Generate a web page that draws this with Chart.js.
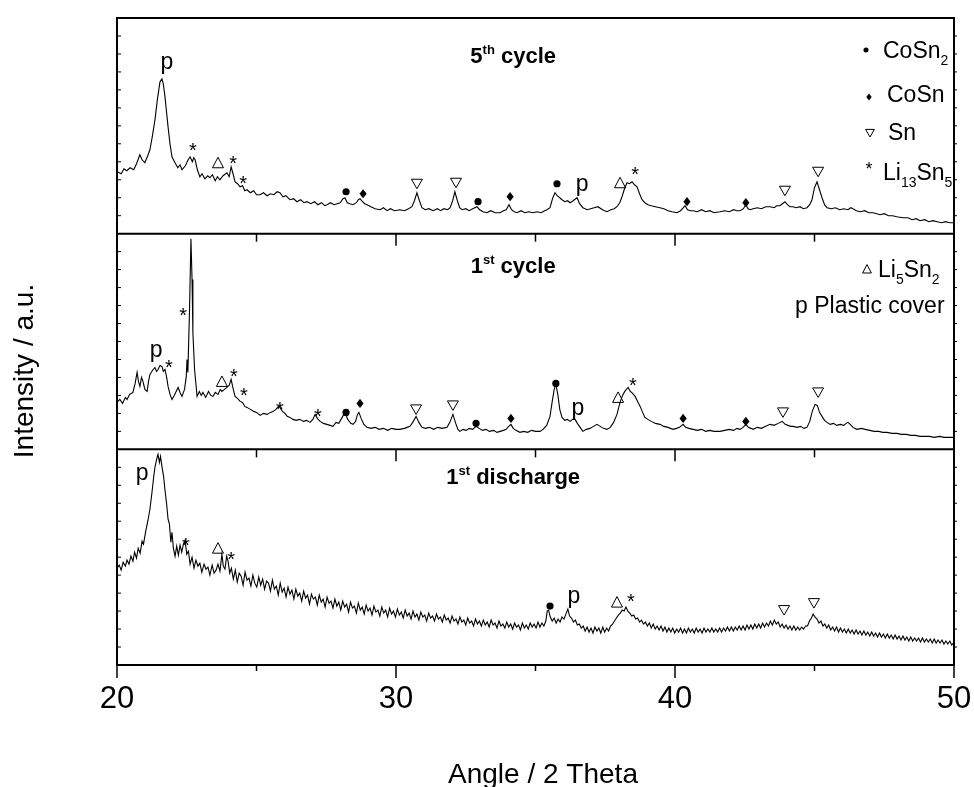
<!DOCTYPE html>
<html>
<head>
<meta charset="utf-8">
<script src="https://cdn.jsdelivr.net/npm/chart.js@4.4.1/dist/chart.umd.min.js"></script>
<style>
  html, body { margin: 0; padding: 0; background: #fff; }
  #wrap { width: 974px; height: 787px; position: relative; }
</style>
</head>
<body>
<div id="wrap"><canvas id="xrd"></canvas></div>
<script>
// [2-theta (deg), intensity (a.u.)]
var discharge = [[20.00,97],[20.08,100],[20.15,95],[20.22,103],[20.30,99],[20.36,105],[20.43,101],[20.50,109],[20.57,104],[20.63,113],[20.70,107],[20.76,117],[20.83,112],[20.90,124],[20.95,121],[21.03,134],[21.11,145],[21.18,156],[21.25,172],[21.31,187],[21.36,198],[21.42,206],[21.47,211],[21.52,203],[21.56,209],[21.61,199],[21.67,189],[21.72,175],[21.78,161],[21.83,146],[21.88,141],[21.93,123],[21.97,133],[22.02,117],[22.08,109],[22.14,119],[22.20,110],[22.26,120],[22.32,113],[22.38,121],[22.44,125],[22.50,111],[22.56,114],[22.62,101],[22.69,108],[22.76,97],[22.83,105],[22.90,99],[22.97,102],[23.04,93],[23.12,101],[23.19,96],[23.26,98],[23.33,90],[23.41,100],[23.48,92],[23.55,95],[23.62,101],[23.69,94],[23.76,111],[23.81,99],[23.87,96],[23.93,109],[23.98,104],[24.04,92],[24.10,97],[24.17,86],[24.24,95],[24.31,83],[24.38,92],[24.45,89],[24.52,80],[24.59,93],[24.66,85],[24.73,87],[24.80,79],[24.87,90],[24.94,82],[25.01,78],[25.08,88],[25.15,80],[25.22,86],[25.29,76],[25.36,84],[25.43,82],[25.50,74],[25.57,85],[25.64,76],[25.71,79],[25.78,70],[25.85,82],[25.92,73],[25.99,77],[26.06,68],[26.13,78],[26.20,71],[26.27,75],[26.34,66],[26.41,76],[26.48,69],[26.55,72],[26.62,64],[26.69,74],[26.76,67],[26.83,70],[26.90,61],[26.97,71],[27.04,66],[27.11,68],[27.18,60],[27.25,70],[27.32,63],[27.39,66],[27.46,58],[27.53,68],[27.60,62],[27.67,64],[27.74,57],[27.81,66],[27.88,59],[27.95,63],[28.02,55],[28.09,64],[28.16,58],[28.23,61],[28.30,53],[28.37,63],[28.44,57],[28.51,59],[28.58,52],[28.65,62],[28.72,55],[28.79,58],[28.86,51],[28.93,60],[29.00,54],[29.07,57],[29.14,50],[29.21,59],[29.28,53],[29.35,55],[29.42,49],[29.49,58],[29.56,52],[29.63,55],[29.70,48],[29.77,57],[29.84,51],[29.91,54],[29.98,48],[30.05,56],[30.12,50],[30.19,53],[30.26,47],[30.33,55],[30.40,49],[30.47,52],[30.54,46],[30.61,54],[30.68,48],[30.75,51],[30.82,45],[30.89,53],[30.96,48],[31.03,50],[31.10,44],[31.17,52],[31.24,47],[31.31,49],[31.38,44],[31.45,51],[31.52,46],[31.59,48],[31.66,43],[31.73,50],[31.80,45],[31.87,47],[31.94,42],[32.01,49],[32.08,44],[32.15,46],[32.22,41],[32.29,48],[32.36,43],[32.43,45],[32.50,40],[32.57,47],[32.64,42],[32.71,44],[32.78,39],[32.85,46],[32.92,41],[32.99,44],[33.06,39],[33.13,45],[33.20,40],[33.27,43],[33.34,38],[33.41,45],[33.48,40],[33.55,42],[33.62,37],[33.69,44],[33.76,39],[33.83,41],[33.90,37],[33.97,43],[34.04,38],[34.11,41],[34.18,36],[34.25,42],[34.32,38],[34.39,40],[34.46,35],[34.53,42],[34.60,37],[34.67,40],[34.74,36],[34.81,42],[34.88,38],[34.95,41],[35.02,37],[35.09,43],[35.16,38],[35.23,42],[35.30,39],[35.37,44],[35.42,54],[35.47,55],[35.53,48],[35.60,44],[35.67,47],[35.74,42],[35.81,46],[35.88,43],[35.95,48],[36.02,46],[36.09,51],[36.16,56],[36.22,49],[36.29,47],[36.36,43],[36.43,45],[36.50,40],[36.57,41],[36.64,37],[36.71,39],[36.78,34],[36.85,38],[36.92,33],[36.99,37],[37.06,32],[37.13,38],[37.20,34],[37.27,37],[37.34,32],[37.41,38],[37.48,33],[37.55,37],[37.62,34],[37.69,39],[37.76,41],[37.83,44],[37.90,47],[37.97,50],[38.04,52],[38.11,55],[38.18,54],[38.24,58],[38.31,54],[38.38,52],[38.45,49],[38.52,50],[38.59,46],[38.66,47],[38.73,43],[38.80,45],[38.87,41],[38.94,43],[39.01,39],[39.08,42],[39.15,37],[39.22,41],[39.29,36],[39.36,39],[39.43,35],[39.50,39],[39.57,34],[39.64,38],[39.71,33],[39.78,37],[39.85,33],[39.92,37],[39.99,32],[40.06,36],[40.13,33],[40.20,37],[40.27,32],[40.34,36],[40.41,32],[40.48,37],[40.55,33],[40.62,36],[40.69,32],[40.76,37],[40.83,33],[40.90,36],[40.97,32],[41.04,37],[41.11,33],[41.18,36],[41.25,33],[41.32,37],[41.39,33],[41.46,36],[41.53,33],[41.60,37],[41.67,33],[41.74,37],[41.81,34],[41.88,38],[41.95,34],[42.02,38],[42.09,34],[42.16,38],[42.23,35],[42.30,39],[42.37,35],[42.44,39],[42.51,35],[42.58,40],[42.65,36],[42.72,40],[42.79,36],[42.86,41],[42.93,37],[43.00,41],[43.07,37],[43.14,42],[43.21,38],[43.28,42],[43.35,39],[43.42,44],[43.49,40],[43.56,45],[43.63,41],[43.70,43],[43.77,38],[43.84,41],[43.91,37],[43.98,40],[44.05,36],[44.12,39],[44.19,35],[44.26,39],[44.33,35],[44.40,38],[44.47,35],[44.54,38],[44.61,36],[44.68,39],[44.75,39],[44.82,44],[44.89,47],[44.95,51],[45.02,48],[45.09,46],[45.16,42],[45.23,44],[45.30,39],[45.37,41],[45.44,37],[45.51,40],[45.58,35],[45.65,38],[45.72,34],[45.79,38],[45.86,33],[45.93,37],[46.00,33],[46.07,36],[46.14,32],[46.21,36],[46.28,32],[46.35,35],[46.42,31],[46.49,35],[46.56,31],[46.63,34],[46.70,30],[46.77,34],[46.84,30],[46.91,33],[46.98,29],[47.05,33],[47.12,29],[47.19,32],[47.26,28],[47.33,32],[47.40,28],[47.47,31],[47.54,27],[47.61,31],[47.68,27],[47.75,30],[47.82,26],[47.89,30],[47.96,26],[48.03,29],[48.10,25],[48.17,29],[48.24,25],[48.31,28],[48.38,24],[48.45,28],[48.52,24],[48.59,27],[48.66,24],[48.73,27],[48.80,23],[48.87,27],[48.94,23],[49.01,26],[49.08,23],[49.15,26],[49.22,22],[49.29,26],[49.36,22],[49.43,25],[49.50,22],[49.57,25],[49.64,21],[49.71,24],[49.78,21],[49.85,24],[49.92,20],[50.00,23]];

var cycle1 = [[20.00,47],[20.10,50],[20.20,46],[20.30,52],[20.36,50],[20.45,55],[20.57,57],[20.65,66],[20.72,77],[20.77,68],[20.82,63],[20.88,72],[20.93,68],[21.00,60],[21.08,58],[21.13,68],[21.18,75],[21.27,79],[21.36,82],[21.42,78],[21.47,80],[21.54,84],[21.61,83],[21.66,78],[21.72,80],[21.78,72],[21.83,63],[21.90,55],[21.97,50],[22.05,54],[22.12,58],[22.19,62],[22.26,57],[22.33,53],[22.42,60],[22.48,72],[22.51,90],[22.54,77],[22.60,140],[22.65,211],[22.69,170],[22.72,117],[22.78,80],[22.87,53],[22.95,58],[23.02,54],[23.08,57],[23.18,52],[23.28,58],[23.36,54],[23.44,53],[23.52,57],[23.62,55],[23.70,60],[23.76,58],[23.85,60],[23.94,62],[24.02,64],[24.09,70],[24.16,61],[24.23,53],[24.32,51],[24.41,48],[24.50,47],[24.58,43],[24.66,42],[24.78,40],[24.90,38],[25.00,37],[25.13,34],[25.25,36],[25.38,35],[25.50,37],[25.59,38],[25.70,40],[25.78,43],[25.84,42],[25.93,38],[26.02,36],[26.10,33],[26.20,32],[26.31,30],[26.42,29],[26.55,30],[26.68,28],[26.80,29],[26.92,27],[27.02,30],[27.10,35],[27.18,31],[27.28,28],[27.40,26],[27.52,25],[27.64,24],[27.74,23],[27.85,27],[27.95,26],[28.05,31],[28.17,37],[28.27,30],[28.38,26],[28.46,25],[28.55,28],[28.62,35],[28.67,37],[28.75,31],[28.85,25],[28.96,22],[29.10,21],[29.25,22],[29.40,20],[29.55,21],[29.70,19],[29.85,21],[30.00,20],[30.14,20],[30.30,21],[30.40,22],[30.50,23],[30.60,27],[30.72,33],[30.82,27],[30.93,22],[31.05,21],[31.20,22],[31.35,20],[31.50,22],[31.65,21],[31.83,22],[31.93,27],[32.04,35],[32.14,26],[32.22,20],[32.29,18],[32.40,20],[32.52,19],[32.62,21],[32.75,20],[32.87,23],[32.98,21],[33.10,19],[33.22,20],[33.35,18],[33.50,19],[33.62,17],[33.73,18],[33.85,19],[33.95,20],[34.04,23],[34.12,25],[34.20,21],[34.30,19],[34.44,17],[34.58,18],[34.72,17],[34.86,19],[35.00,18],[35.16,18],[35.27,20],[35.40,24],[35.52,33],[35.60,48],[35.67,60],[35.73,65],[35.80,55],[35.87,40],[35.95,32],[36.05,29],[36.14,30],[36.24,28],[36.33,30],[36.42,30],[36.50,26],[36.60,22],[36.70,18],[36.82,20],[36.95,21],[37.08,23],[37.20,25],[37.32,23],[37.44,21],[37.56,20],[37.68,22],[37.80,27],[37.92,35],[38.03,47],[38.12,54],[38.20,58],[38.32,62],[38.40,58],[38.48,56],[38.57,53],[38.66,48],[38.75,43],[38.84,37],[38.92,32],[39.03,30],[39.15,28],[39.30,26],[39.46,25],[39.60,23],[39.75,22],[39.93,20],[40.05,21],[40.16,22],[40.29,25],[40.38,22],[40.50,21],[40.65,20],[40.80,19],[40.95,20],[41.10,18],[41.25,19],[41.40,18],[41.61,18],[41.78,19],[41.95,20],[42.10,19],[42.22,21],[42.33,20],[42.44,22],[42.54,25],[42.63,22],[42.72,21],[42.80,20],[42.95,22],[43.10,21],[43.25,23],[43.41,25],[43.55,24],[43.70,26],[43.84,28],[43.95,25],[44.05,24],[44.15,23],[44.23,23],[44.38,22],[44.50,23],[44.62,21],[44.73,22],[44.83,28],[44.92,38],[45.02,45],[45.10,44],[45.18,37],[45.27,33],[45.36,29],[45.45,27],[45.56,25],[45.68,26],[45.80,24],[45.92,25],[46.05,24],[46.13,26],[46.20,27],[46.28,25],[46.38,22],[46.52,20],[46.68,21],[46.82,20],[46.98,19],[47.14,18],[47.30,18],[47.45,17],[47.60,17],[47.78,16],[47.95,16],[48.12,15],[48.30,15],[48.45,14],[48.62,14],[48.78,13],[48.95,13],[49.12,13],[49.30,12],[49.48,13],[49.65,12],[49.82,12],[50.00,12]];

var cycle5 = [[20.00,62],[20.15,60],[20.25,65],[20.35,63],[20.47,66],[20.60,64],[20.70,70],[20.82,79],[20.90,74],[21.00,71],[21.10,78],[21.18,84],[21.27,98],[21.36,114],[21.45,135],[21.54,152],[21.61,155],[21.66,150],[21.72,137],[21.83,107],[21.90,90],[21.97,77],[22.08,71],[22.18,66],[22.26,69],[22.33,64],[22.45,68],[22.55,74],[22.62,77],[22.70,72],[22.75,76],[22.80,74],[22.88,64],[22.97,57],[23.05,60],[23.15,55],[23.25,58],[23.33,56],[23.42,59],[23.52,53],[23.60,57],[23.69,54],[23.80,58],[23.94,61],[24.02,57],[24.09,67],[24.16,60],[24.23,52],[24.32,50],[24.41,47],[24.50,48],[24.58,43],[24.66,44],[24.78,41],[24.90,43],[25.00,39],[25.13,39],[25.25,41],[25.38,38],[25.50,40],[25.62,39],[25.74,42],[25.84,41],[25.95,37],[26.05,38],[26.20,34],[26.33,35],[26.45,32],[26.58,34],[26.70,31],[26.81,32],[26.95,30],[27.08,32],[27.20,29],[27.33,31],[27.45,28],[27.53,29],[27.65,31],[27.78,29],[27.89,30],[28.00,31],[28.10,35],[28.17,36],[28.25,31],[28.35,30],[28.46,29],[28.58,31],[28.65,34],[28.71,35],[28.80,32],[28.88,30],[28.96,29],[29.10,27],[29.25,25],[29.43,24],[29.55,26],[29.68,23],[29.80,25],[29.95,23],[30.14,24],[30.30,23],[30.45,25],[30.57,27],[30.66,33],[30.75,41],[30.84,33],[30.93,26],[31.05,24],[31.18,25],[31.33,23],[31.48,25],[31.60,23],[31.72,25],[31.85,24],[31.94,26],[32.03,33],[32.11,42],[32.20,33],[32.28,26],[32.37,24],[32.50,25],[32.62,23],[32.75,25],[32.90,27],[33.00,24],[33.12,22],[33.26,21],[33.40,23],[33.55,21],[33.73,21],[33.85,23],[33.95,24],[34.05,29],[34.14,24],[34.24,22],[34.34,21],[34.48,23],[34.62,21],[34.76,22],[34.91,21],[35.05,22],[35.20,21],[35.33,23],[35.41,24],[35.52,26],[35.62,36],[35.70,41],[35.78,38],[35.87,36],[35.95,34],[36.05,32],[36.15,33],[36.24,31],[36.35,33],[36.49,36],[36.58,30],[36.70,26],[36.85,24],[36.98,25],[37.10,26],[37.24,27],[37.40,24],[37.56,22],[37.70,24],[37.82,25],[37.92,27],[38.02,31],[38.10,37],[38.19,45],[38.28,51],[38.37,50],[38.46,52],[38.55,49],[38.64,47],[38.73,40],[38.82,34],[38.92,31],[39.03,29],[39.15,28],[39.30,27],[39.46,26],[39.60,25],[39.75,23],[39.90,22],[40.07,21],[40.20,23],[40.30,26],[40.36,28],[40.45,24],[40.55,23],[40.65,23],[40.80,22],[40.95,24],[41.10,22],[41.25,23],[41.40,21],[41.61,22],[41.78,23],[41.95,22],[42.10,24],[42.22,23],[42.33,23],[42.45,25],[42.54,29],[42.62,25],[42.70,24],[42.80,25],[42.95,26],[43.10,25],[43.25,27],[43.41,27],[43.55,26],[43.65,28],[43.76,28],[43.85,30],[43.94,32],[44.03,29],[44.12,27],[44.23,27],[44.35,26],[44.48,27],[44.60,25],[44.73,26],[44.83,29],[44.91,34],[45.00,46],[45.09,52],[45.18,44],[45.27,36],[45.36,29],[45.45,26],[45.60,25],[45.75,26],[45.90,24],[46.05,25],[46.20,24],[46.30,26],[46.38,25],[46.50,23],[46.65,22],[46.80,23],[46.95,21],[47.10,21],[47.23,20],[47.35,19],[47.50,20],[47.65,18],[47.80,18],[47.95,17],[48.17,16],[48.35,16],[48.50,14],[48.65,15],[48.78,13],[48.95,14],[49.10,12],[49.25,13],[49.40,12],[49.55,11],[49.70,12],[49.85,11],[50.00,11]];

// peak labels: [2-theta, height, phase]
var dischargePeaks = [[20.90,189,"p"],[22.47,124,"star"],[23.62,117,"delta"],[24.09,110,"star"],[35.52,59,"dot"],[36.38,66,"p"],[37.92,63,"delta"],[38.42,68,"star"],[43.91,55,"tri"],[44.98,62,"tri"]];
var cycle1Peaks = [[21.40,96,"p"],[21.86,86,"star"],[22.37,139,"star"],[23.76,68,"delta"],[24.19,77,"star"],[24.55,58,"star"],[25.84,44,"star"],[27.20,37,"star"],[28.21,37,"dot"],[28.71,46,"dia"],[30.72,40,"tri"],[32.04,44,"tri"],[32.87,26,"dot"],[34.12,31,"dia"],[35.73,66,"dot"],[36.52,38,"p"],[37.96,52,"delta"],[38.49,68,"star"],[40.29,31,"dia"],[42.54,28,"dia"],[43.87,37,"tri"],[45.13,57,"tri"]];
var cycle5Peaks = [[21.79,169,"p"],[22.72,88,"star"],[23.62,71,"delta"],[24.16,75,"star"],[24.52,55,"star"],[28.21,42,"dot"],[28.82,40,"dia"],[30.75,50,"tri"],[32.15,51,"tri"],[32.94,32,"dot"],[34.09,37,"dia"],[35.77,50,"dot"],[36.67,47,"p"],[38.03,51,"delta"],[38.57,64,"star"],[40.43,32,"dia"],[42.54,31,"dia"],[43.94,43,"tri"],[45.13,62,"tri"]];

var xTicks = [20, 30, 40, 50];
var xMinorTicks = [25, 35, 45];
var panelTitles = [
  [["1",0],["st",1],[" discharge",0]],
  [["1",0],["st",1],[" cycle",0]],
  [["5",0],["th",1],[" cycle",0]]
];

var FONT = '"Liberation Sans", Arial, Helvetica, sans-serif';
var PANEL = 216;           // height of one panel in intensity units
var offsets = [0, PANEL, 2 * PANEL];

function toPoints(series, off) {
  return series.map(function(d) { return {x: d[0], y: d[1] + off}; });
}

function drawRich(ctx, pieces, x, y, size, weight, align) {
  // pieces: [text, shift]  shift 0 normal, 1 superscript, -1 subscript
  var small = Math.round(size * 0.6);
  var fontOf = function(p) { return weight + " " + (p[1] ? small : size) + "px " + FONT; };
  var w = 0;
  pieces.forEach(function(p) { ctx.font = fontOf(p); w += ctx.measureText(p[0]).width; });
  var cx = align == "center" ? x - w / 2 : (align == "right" ? x - w : x);
  ctx.textAlign = "left";
  ctx.textBaseline = "alphabetic";
  pieces.forEach(function(p) {
    ctx.font = fontOf(p);
    var dy = p[1] == 1 ? -size * 0.4 : (p[1] == -1 ? size * 0.32 : 0);
    ctx.fillText(p[0], cx, y + dy);
    cx += ctx.measureText(p[0]).width;
  });
}

function drawSymbol(ctx, kind, x, y, k) {
  k = k || 1;
  ctx.save();
  ctx.fillStyle = "#000";
  ctx.strokeStyle = "#000";
  ctx.lineWidth = 1;
  ctx.beginPath();
  if (kind == "dot") {
    ctx.arc(x, y, 3.6 * k, 0, Math.PI * 2);
    ctx.fill();
  } else if (kind == "dia") {
    ctx.moveTo(x, y - 4.6 * k); ctx.lineTo(x + 3.6 * k, y);
    ctx.lineTo(x, y + 4.6 * k); ctx.lineTo(x - 3.6 * k, y);
    ctx.closePath(); ctx.fill();
  } else if (kind == "tri") {
    ctx.moveTo(x - 5.5 * k, y - 4.5 * k); ctx.lineTo(x + 5.5 * k, y - 4.5 * k);
    ctx.lineTo(x, y + 5 * k); ctx.closePath(); ctx.stroke();
  } else if (kind == "delta") {
    ctx.moveTo(x - 5.5 * k, y + 5 * k); ctx.lineTo(x + 5.5 * k, y + 5 * k);
    ctx.lineTo(x, y - 5.5 * k); ctx.closePath(); ctx.stroke();
  } else if (kind == "star") {
    ctx.font = Math.round(20 * k) + "px " + FONT;
    ctx.textAlign = "center"; ctx.textBaseline = "alphabetic";
    ctx.fillText("*", x, y + 11 * k);
  } else if (kind == "p") {
    ctx.font = "23px " + FONT;
    ctx.textAlign = "center"; ctx.textBaseline = "alphabetic";
    ctx.fillText("p", x, y + 4);
  }
  ctx.restore();
}

var framePlugin = {
  id: "frame",
  afterDatasetsDraw: function(chart) {
    var ctx = chart.ctx, a = chart.chartArea;
    var xs = chart.scales.x, ys = chart.scales.y;
    var seg = function(x1, y1, x2, y2) { ctx.beginPath(); ctx.moveTo(x1, y1); ctx.lineTo(x2, y2); ctx.stroke(); };
    ctx.save();
    ctx.strokeStyle = "#000";
    ctx.fillStyle = "#000";

    // box and panel separators
    ctx.lineWidth = 2;
    ctx.strokeRect(a.left, a.top, a.right - a.left, a.bottom - a.top);
    offsets.slice(1).forEach(function(off) {
      var y = ys.getPixelForValue(off);
      ctx.lineWidth = 2;
      seg(a.left, y, a.right, y);
      ctx.lineWidth = 1.5;
      xMinorTicks.concat(xTicks).forEach(function(t) {
        if (t == xs.min || t == xs.max) return;
        var x = xs.getPixelForValue(t);
        seg(x, y, x, y + (xTicks.indexOf(t) >= 0 ? 12 : 8));
      });
    });

    // bottom axis ticks
    ctx.lineWidth = 1.5;
    xTicks.forEach(function(t) { var x = xs.getPixelForValue(t); seg(x, a.bottom, x, a.bottom + 13); });
    xMinorTicks.forEach(function(t) { var x = xs.getPixelForValue(t); seg(x, a.bottom, x, a.bottom + 6); });

    // small intensity ticks on both sides
    ctx.lineWidth = 1;
    for (var v = 18; v < 3 * PANEL; v += 18) {
      if (v % PANEL == 0) continue;
      var y = ys.getPixelForValue(v);
      seg(a.left, y, a.left + 4, y);
      seg(a.right, y, a.right + 3, y);
    }

    // panel titles
    var titleY = [189, 185, 179];
    panelTitles.forEach(function(pieces, i) {
      var y = ys.getPixelForValue(offsets[i] + titleY[i]);
      drawRich(ctx, pieces, xs.getPixelForValue(34.2), y + 8, 22, "bold", "center");
    });

    // peak labels
    [dischargePeaks, cycle1Peaks, cycle5Peaks].forEach(function(list, i) {
      list.forEach(function(pk) {
        drawSymbol(ctx, pk[2], xs.getPixelForValue(pk[0]), ys.getPixelForValue(pk[1] + offsets[i]));
      });
    });

    // phase key
    ctx.fillStyle = "#000";
    drawSymbol(ctx, "dot", 866, 50, 0.7);
    drawRich(ctx, [["CoSn",0],["2",-1]], 883, 58, 23, "normal", "left");
    drawSymbol(ctx, "dia", 869, 97, 0.75);
    drawRich(ctx, [["CoSn",0]], 887, 102, 23, "normal", "left");
    drawSymbol(ctx, "tri", 870, 133, 0.8);
    drawRich(ctx, [["Sn",0]], 888, 140, 23, "normal", "left");
    drawSymbol(ctx, "star", 869, 165, 0.9);
    drawRich(ctx, [["Li",0],["13",-1],["Sn",0],["5",-1]], 883, 180, 23, "normal", "left");
    drawSymbol(ctx, "delta", 867, 269, 0.8);
    drawRich(ctx, [["Li",0],["5",-1],["Sn",0],["2",-1]], 878, 277, 23, "normal", "left");
    drawRich(ctx, [["p Plastic cover",0]], 795, 313, 23, "normal", "left");

    // axis titles
    ctx.font = "28px " + FONT;
    ctx.textAlign = "center";
    ctx.textBaseline = "middle";
    ctx.fillText("Angle / 2 Theta", 543, 775);
    ctx.translate(25, 371);
    ctx.rotate(-Math.PI / 2);
    ctx.fillText("Intensity / a.u.", 0, 0);
    ctx.restore();
  }
};

var lineStyle = { borderColor: "#000", borderWidth: 1.1, pointRadius: 0, fill: false, tension: 0 };

new Chart(document.getElementById("xrd"), {
  type: "line",
  data: {
    datasets: [
      Object.assign({ label: "1st discharge", data: toPoints(discharge, offsets[0]) }, lineStyle),
      Object.assign({ label: "1st cycle", data: toPoints(cycle1, offsets[1]) }, lineStyle),
      Object.assign({ label: "5th cycle", data: toPoints(cycle5, offsets[2]) }, lineStyle)
    ]
  },
  options: {
    responsive: true,
    maintainAspectRatio: false,
    animation: false,
    layout: { padding: { left: 117, right: 20, top: 18, bottom: 0 } },
    plugins: { legend: { display: false }, tooltip: { enabled: false } },
    scales: {
      x: {
        type: "linear", min: 20, max: 50,
        grid: { display: false, drawTicks: false },
        border: { display: false },
        ticks: {
          stepSize: 10, autoSkip: false, maxRotation: 0, padding: 16, color: "#000",
          font: { family: FONT, size: 31 },
          callback: function(v) { return xTicks.indexOf(v) >= 0 ? String(v) : ""; }
        },
        afterFit: function(s) { s.height = 122; s.paddingLeft = 0; s.paddingRight = 0; }
      },
      y: { display: false, min: 0, max: 3 * PANEL }
    }
  },
  plugins: [framePlugin]
});
</script>
</body>
</html>
